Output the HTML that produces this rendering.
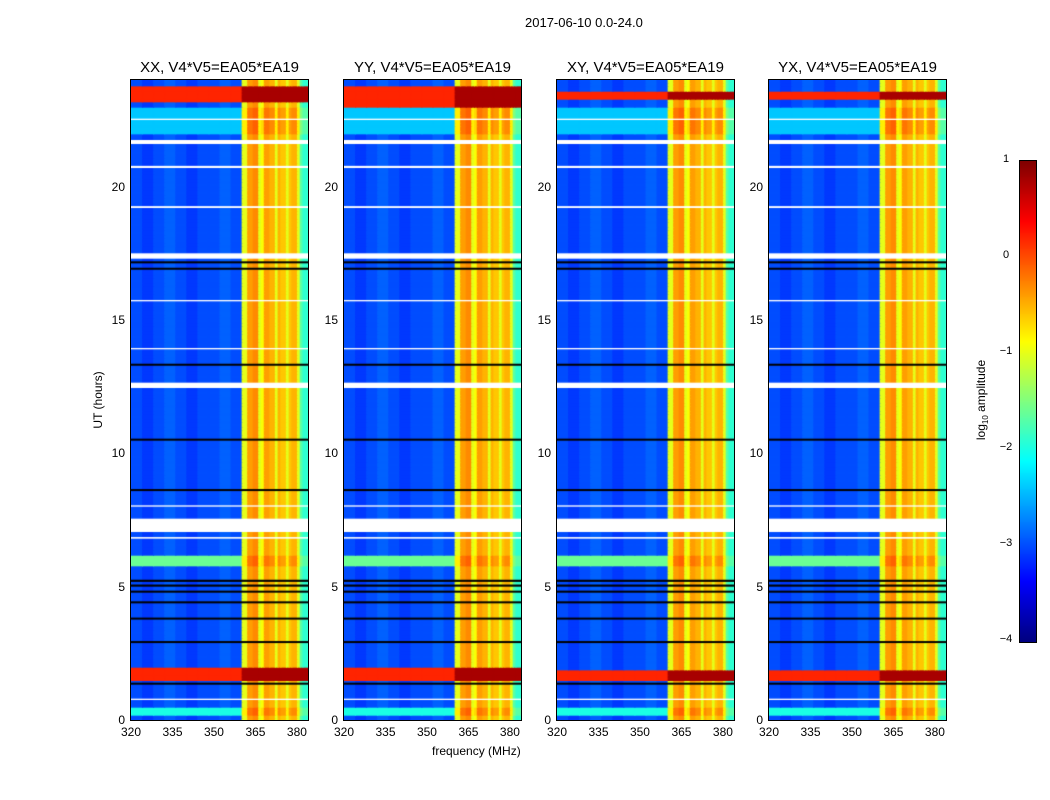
<!DOCTYPE html>
<html><head><meta charset="utf-8">
<style>
body{margin:0;background:#fff;font-family:"Liberation Sans",sans-serif;}
#wrap{position:relative;width:1050px;height:800px;overflow:hidden;}
canvas{position:absolute;}
.t{position:absolute;font-size:12px;color:#000;white-space:nowrap;}
.pt{position:absolute;font-size:15px;color:#000;white-space:nowrap;transform:translateX(-50%);}
</style></head>
<body>
<div id="wrap">
<div class="t" style="left:525px;top:15px;font-size:13px">2017-06-10 0.0-24.0</div>
<div class="t" style="left:432px;top:744px;font-size:12px">frequency (MHz)</div>
<div class="t" style="left:98px;top:400px;transform:translate(-50%,-50%) rotate(-90deg);">UT (hours)</div>
<div class="t" style="left:982px;top:400px;transform:translate(-50%,-50%) rotate(-90deg);">log<sub style="font-size:8px">10</sub> amplitude</div>
<canvas id="cb" width="16" height="481" style="left:1019px;top:160px;border:1px solid #000"></canvas>
</div>
<script>
// data
const panelTitles = ["XX, V4*V5=EA05*EA19","YY, V4*V5=EA05*EA19","XY, V4*V5=EA05*EA19","YX, V4*V5=EA05*EA19"];
const freqTicks = [320,335,350,365,380];
const timeTicks = [0,5,10,15,20];
const cbTicks = [1,0,-1,-2,-3,-4];
const chanStart = [320,324,328,332,336,340,344,348,352,356,360,362,364,366,367,368,370,372,373,374,376,377,378,380,381,382];
const chanLevel = [-3,-3.1,-3,-2.9,-3,-3.1,-3,-3,-2.9,-3,-1.0,-0.4,-0.3,-1.0,-0.9,-0.4,-0.5,-1.0,-0.5,-0.6,-1.0,-0.6,-0.5,-1.0,-1.7,-1.9];
const whiteHours = [[7.05,7.55],[12.45,12.65],[17.3,17.5],[21.6,21.75],[20.7,20.78],[19.2,19.27],[0.75,0.8],[6.8,6.86],[15.7,15.75],[22.5,22.55],[8.0,8.05],[13.9,13.95]];
const blackHours = [[5.0,5.08],[5.18,5.26],[4.4,4.45],[2.9,2.96],[8.6,8.66],[10.5,10.55],[13.3,13.36],[16.9,16.96],[17.15,17.2],[1.35,1.4],[3.8,3.84],[4.8,4.85]];
const redHoursXX = [[1.5,2.0],[23.2,23.8]];
const redHoursYY = [[1.5,2.0],[23.0,23.8]];
const redHoursXY = [[1.5,1.9],[23.3,23.6]];
const redHoursYX = [[1.5,1.9],[23.3,23.6]];
const brightRows = [[5.8,6.2],[0.2,0.5],[22.0,23.0]];
const brightLevels = [-1.6,-2.0,-2.4];
</script>
<script>
const wrap=document.getElementById('wrap');
const panelsX=[131,344,557,769], PW=177, PT=80, PH=640;
const fx=f=>(f-320)/(384-320)*PW, ty=t=>PH-t/24*PH;
function jet(v){let x=(v+4)/5;x=Math.max(0,Math.min(1,x));
 const r=Math.min(4*x-1.5,-4*x+4.5),g=Math.min(4*x-0.5,-4*x+3.5),b=Math.min(4*x+0.5,-4*x+2.5);
 const c=a=>Math.round(255*Math.max(0,Math.min(1,a)));return `rgb(${c(r)},${c(g)},${c(b)})`;}
const redSets=[redHoursXX,redHoursYY,redHoursXY,redHoursYX];
panelsX.forEach((px,p)=>{
 const cv=document.createElement('canvas');cv.width=PW;cv.height=PH;
 cv.style.left=px+'px';cv.style.top=PT+'px';cv.style.outline='1px solid #000';
 
 
 wrap.appendChild(cv);const g=cv.getContext('2d');
 const idx=(t,arr)=>arr.findIndex(a=>t>=a[0]&&t<a[1]);
 for(let k=0;k<240;k++){const t0=k*0.1,tm=t0+0.05;
  const red=idx(tm,redSets[p])>=0, bi=idx(tm,brightRows);
  for(let c=0;c<chanStart.length;c++){const f0=chanStart[c],f1=c+1<chanStart.length?chanStart[c+1]:384;
   let v=chanLevel[c];
   if(red) v=f0>=360?0.8:0.2; else if(bi>=0) v=f0>=360?v+0.2:brightLevels[bi];
   g.fillStyle=jet(v);g.fillRect(fx(f0),ty(t0+0.1),fx(f1)-fx(f0)+1,ty(t0)-ty(t0+0.1)+1);}
 }
 g.fillStyle='#fff';whiteHours.forEach(h=>g.fillRect(0,ty(h[1]),PW,ty(h[0])-ty(h[1])));
 g.fillStyle='#000';blackHours.forEach(h=>g.fillRect(0,ty(h[1]),PW,Math.max(2,ty(h[0])-ty(h[1]))));
 const ti=document.createElement('div');ti.className='pt';ti.textContent=panelTitles[p];
 ti.style.left=(px+PW/2)+'px';ti.style.top='59px';
 
 
 wrap.appendChild(ti);
 freqTicks.forEach(f=>{const d=document.createElement('div');d.className='t';d.textContent=f;
  d.style.left=(px+fx(f))+'px';d.style.top='725px';d.style.transform='translateX(-50%)';
  
  
  wrap.appendChild(d);});
 timeTicks.forEach(t=>{const d=document.createElement('div');d.className='t';d.textContent=t;
  d.style.left=(px-6)+'px';d.style.top=(PT+ty(t)-7)+'px';d.style.transform='translateX(-100%)';
  
  
  wrap.appendChild(d);});
});
const cb=document.getElementById('cb').getContext('2d');
for(let i=0;i<481;i++){cb.fillStyle=jet(1-i/480*5);cb.fillRect(0,i,16,1);}
cbTicks.forEach(v=>{const d=document.createElement('div');d.className='t';d.style.fontSize='11px';
 d.textContent=v<0?'\u2212'+(-v):v;d.style.left='1006px';d.style.top=(160+(1-v)/5*480-7)+'px';
 d.style.transform='translateX(-50%)';
 
 
 wrap.appendChild(d);});
</script>
</body></html>
